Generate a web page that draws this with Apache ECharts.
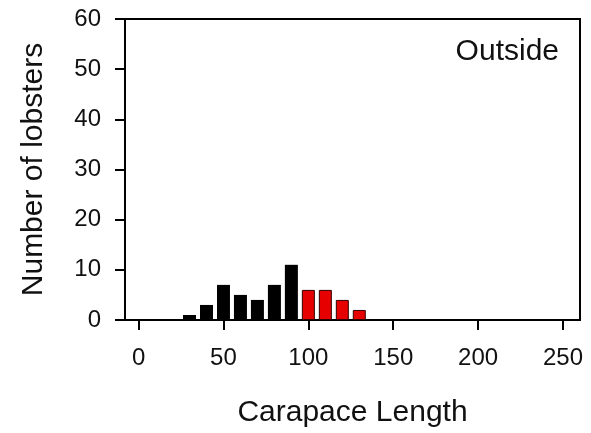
<!DOCTYPE html>
<html lang="en">

<head>
	<meta charset="UTF-8">
	<title>Outside</title>
	<style>
		html, body { margin: 0; padding: 0; background: #fff; }
	</style>
</head>

<body>
	<div id="main" style="width: 591px;height:433px;"></div>
	<script src="https://cdn.jsdelivr.net/npm/echarts@6/dist/echarts.min.js"></script>
	<script>
		// bin centres (carapace length) and counts
		var smallLengths = [30, 40, 50, 60, 70, 80, 90];
		var smallCounts = [1, 3, 7, 5, 4, 7, 11];
		var bigLengths = [100, 110, 120, 130];
		var bigCounts = [6, 6, 4, 2];
		var xTicks = [0, 50, 100, 150, 200, 250];
		var yTicks = [0, 10, 20, 30, 40, 50, 60];

		function pairs(xs, ys) {
			return xs.map(function (x, i) { return [x, ys[i]]; });
		}

		var font = 'Liberation Sans, Arial, sans-serif';
		var myChart = echarts.init(document.getElementById('main'));

		var option = {
			animation: false,
			grid: {
				left: 125, right: 11, top: 19, bottom: 113,
				show: true, borderColor: '#000', borderWidth: 2
			},
			xAxis: {
				type: 'value',
				min: -8,
				max: 260,
				name: 'Carapace Length',
				nameLocation: 'middle',
				nameGap: 78,
				nameTextStyle: { fontFamily: font, fontSize: 30, color: '#111' },
				axisLine: { onZero: false, lineStyle: { color: '#000', width: 2 } },
				axisTick: { customValues: xTicks, length: 10, lineStyle: { color: '#000', width: 2 } },
				axisLabel: { customValues: xTicks, margin: 26, fontFamily: font, fontSize: 24, color: '#111' },
				splitLine: { show: false }
			},
			yAxis: {
				type: 'value',
				min: 0,
				max: 60,
				interval: 10,
				name: 'Number of lobsters',
				nameLocation: 'middle',
				nameGap: 76,
				nameTextStyle: { fontFamily: font, fontSize: 30, color: '#111' },
				axisLine: { show: true, onZero: false, lineStyle: { color: '#000', width: 2 } },
				axisTick: { show: true, length: 10, lineStyle: { color: '#000', width: 2 } },
				axisLabel: { customValues: yTicks, margin: 24, fontFamily: font, fontSize: 24, color: '#111' },
				splitLine: { show: false }
			},
			graphic: [{
				type: 'text',
				right: 32,
				top: 37,
				style: { text: 'Outside', font: '30px ' + font, fill: '#111' }
			}],
			series: [{
				type: 'bar',
				barWidth: 13,
				barGap: '-100%',
				itemStyle: { color: '#000' },
				data: pairs(smallLengths, smallCounts)
			}, {
				type: 'bar',
				barWidth: 13,
				barGap: '-100%',
				itemStyle: { color: '#e60000', borderColor: '#300', borderWidth: 1 },
				data: pairs(bigLengths, bigCounts)
			}]
		};

		myChart.setOption(option);
	</script>
</body>

</html>
